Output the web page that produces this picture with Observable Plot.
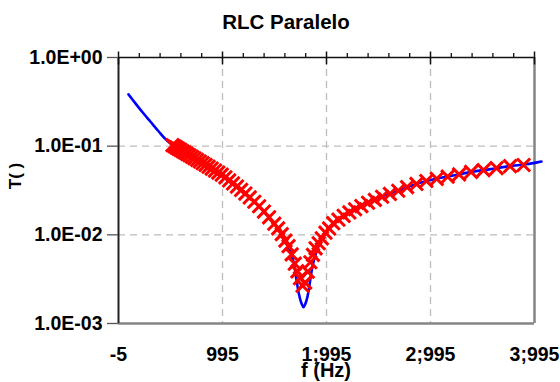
<!DOCTYPE html>
<html>
<head>
<meta charset="utf-8">
<script src="https://cdn.jsdelivr.net/npm/d3@7"></script>
<script src="https://cdn.jsdelivr.net/npm/@observablehq/plot@0.6"></script>
<style>
  html, body { margin: 0; padding: 0; background: #fff; }
  #chart { width: 560px; height: 382px; }
</style>
</head>
<body>
<div id="chart"></div>
<script>
// ---- data ----
const chartTitle = "RLC Paralelo";
const xLabel = "f (Hz)";
const yLabel = "T( )";

// theoretical curve (blue line)
const fBlue = [91, 158, 226, 303, 380, 447, 514, 610, 707, 803, 899, 995, 1091, 1187, 1283, 1380, 1456, 1533, 1601, 1649, 1678, 1706, 1731, 1755, 1774, 1793, 1812, 1832, 1851, 1880, 1937, 1995, 2062, 2158, 2255, 2380, 2514, 2707, 2832, 2995, 3187, 3380, 3572, 3764, 3985, 4062];
const tBlue = [0.384, 0.304, 0.241, 0.1885, 0.1474, 0.1199, 0.1026, 0.0879, 0.0752, 0.0644, 0.0551, 0.0472, 0.0384, 0.0312, 0.0247, 0.0191, 0.01513, 0.01168, 0.00856, 0.00644, 0.00497, 0.00312, 0.00212, 0.00168, 0.00153, 0.00168, 0.00201, 0.00274, 0.00384, 0.00551, 0.00834, 0.01109, 0.01364, 0.01635, 0.0191, 0.0229, 0.0267, 0.0320, 0.0365, 0.0415, 0.0460, 0.0510, 0.0551, 0.0596, 0.0644, 0.0670];

// measured points (red X markers)
const fRed = [514, 532, 551, 570, 590, 611, 632, 654, 677, 701, 725, 751, 777, 804, 832, 861, 891, 923, 955, 988, 1023, 1059, 1096, 1134, 1174, 1215, 1257, 1301, 1347, 1394, 1443, 1493, 1530, 1565, 1600, 1630, 1660, 1690, 1715, 1740, 1765, 1790, 1815, 1840, 1865, 1890, 1920, 1950, 1985, 2020, 2060, 2110, 2160, 2215, 2270, 2330, 2395, 2460, 2530, 2605, 2685, 2770, 2860, 2955, 3055, 3160, 3270, 3385, 3505, 3630, 3760, 3890];
const tRed = [0.1026, 0.0998, 0.0967, 0.0937, 0.0909, 0.0876, 0.0850, 0.0819, 0.0790, 0.0760, 0.0731, 0.0700, 0.0671, 0.0643, 0.0615, 0.0587, 0.0559, 0.0531, 0.0504, 0.0477, 0.0445, 0.0411, 0.0380, 0.0350, 0.0321, 0.0292, 0.0264, 0.0236, 0.0210, 0.0183, 0.01577, 0.01336, 0.01183, 0.01018, 0.00861, 0.00745, 0.00602, 0.00473, 0.00387, 0.00324, 0.00267, 0.00289, 0.00384, 0.00491, 0.00594, 0.00705, 0.00803, 0.00914, 0.01058, 0.0118, 0.01353, 0.01482, 0.0164, 0.0179, 0.01944, 0.0211, 0.0230, 0.0248, 0.0269, 0.0289, 0.0314, 0.0345, 0.0375, 0.0405, 0.0428, 0.0453, 0.0481, 0.0512, 0.0537, 0.0566, 0.0595, 0.0613];

// axes
const xTicks = [-5, 995, 1995, 2995, 3995];
const xTickLabels = ["-5", "995", "1;995", "2;995", "3;995"];
const xMinorTicks = [195, 395, 595, 795, 1195, 1395, 1595, 1795, 2195, 2395, 2595, 2795, 3195, 3395, 3595, 3795];
const yTicks = [1, 0.1, 0.01, 0.001];
const yTickLabels = ["1.0E+00", "1.0E-01", "1.0E-02", "1.0E-03"];

// ---- build tables ----
const blue = fBlue.map((f, i) => ({f, t: tBlue[i]}));
const red = fRed.map((f, i) => ({f, t: tRed[i]}));
const xFmt = new Map(xTicks.map((v, i) => [v, xTickLabels[i]]));
const yFmt = new Map(yTicks.map((v, i) => [v, yTickLabels[i]]));

const FONT = "'Liberation Sans', Arial, sans-serif";
const FS = 19.5;

const svg = Plot.plot({
  width: 560,
  height: 382,
  marginLeft: 118,
  marginRight: 26,
  marginTop: 57,
  marginBottom: 59,
  style: {fontFamily: FONT, fontSize: FS + "px", fontWeight: "bold", background: "#fff", color: "#000"},
  x: {type: "linear", domain: [xTicks[0], xTicks[xTicks.length - 1]]},
  y: {type: "log", domain: [yTicks[yTicks.length - 1], yTicks[0]]},
  marks: [
    Plot.gridX(xTicks.slice(1, -1), {stroke: "#bdbdbd", strokeOpacity: 1, strokeWidth: 1.3, strokeDasharray: "7,5"}),
    Plot.gridY(yTicks.slice(1, -1), {stroke: "#bdbdbd", strokeOpacity: 1, strokeWidth: 1.3, strokeDasharray: "7,5"}),
    // frame
    Plot.ruleY([yTicks[yTicks.length - 1]], {stroke: "#858585", strokeWidth: 2.5}),
    Plot.ruleX([xTicks[xTicks.length - 1]], {stroke: "#858585", strokeWidth: 2.5}),
    Plot.ruleX([xTicks[0]], {stroke: "#222", strokeWidth: 2}),
    Plot.ruleY([yTicks[0]], {stroke: "#111", strokeWidth: 1.5}),
    // top axis ticks
    Plot.axisX(xMinorTicks, {anchor: "top", tickSize: 5, text: null, label: null, stroke: "#111", strokeWidth: 1.3}),
    Plot.axisX(xTicks, {anchor: "top", tickSize: 13, dy: 6.5, text: null, label: null, stroke: "#111", strokeWidth: 1.5}),
    // bottom labels
    Plot.axisX(xTicks, {anchor: "bottom", tickSize: 0, tickPadding: 24, tickFormat: d => xFmt.get(d), label: null, fontWeight: "bold", fill: "#000"}),
    // left axis
    Plot.axisY(yTicks, {anchor: "left", tickSize: 11, tickPadding: 5, tickFormat: d => yFmt.get(d), label: null, stroke: "#555", strokeWidth: 1.3, fontWeight: "bold", fill: "#000"}),
    // data
    Plot.line(blue, {x: "f", y: "t", stroke: "#0000ff", strokeWidth: 2.6, curve: "catmull-rom"}),
    Plot.dot(red, {x: "f", y: "t", symbol: "times", r: 6, stroke: "#ff0000", strokeWidth: 3})
  ]
});

const s = d3.select(svg);
s.append("text").text(chartTitle)
  .attr("x", 286).attr("y", 28.5).attr("text-anchor", "middle")
  .attr("font-family", FONT).attr("font-size", 20.5).attr("font-weight", "bold").attr("fill", "#000");
s.append("text").text(xLabel)
  .attr("x", 326).attr("y", 376.5).attr("text-anchor", "middle")
  .attr("font-family", FONT).attr("font-size", 20).attr("font-weight", "bold").attr("fill", "#000");
s.append("text").text(yLabel)
  .attr("transform", "translate(21,176) rotate(-90)").attr("text-anchor", "middle")
  .attr("font-family", FONT).attr("font-size", 17).attr("font-weight", "bold").attr("fill", "#000");

document.getElementById("chart").appendChild(svg);
</script>
</body>
</html>
